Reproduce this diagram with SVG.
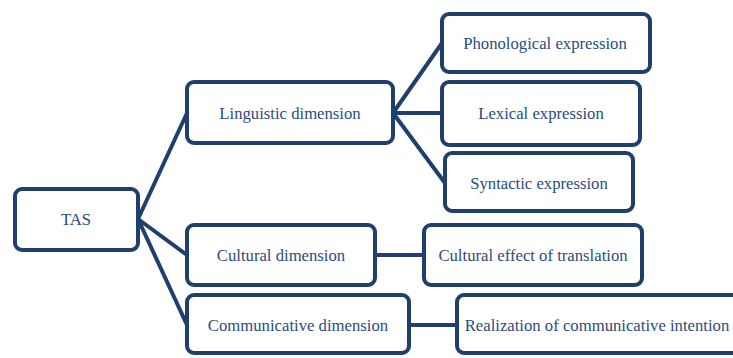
<svg xmlns="http://www.w3.org/2000/svg" width="733" height="358" viewBox="0 0 733 358">
<style>
.box{fill:#fff;stroke:#1F3F6E;stroke-width:4}
.lbl{font-family:"Liberation Serif","DejaVu Serif",serif;font-size:16.7px;fill:#2B4C7E;text-anchor:middle;dominant-baseline:central}
.con{stroke:#1F3F6E;stroke-width:4;fill:none}
</style>
<rect width="733" height="358" fill="#fff"/>
<g id="connectors">
<line class="con" x1="138" y1="219" x2="187" y2="113"/>
<line class="con" x1="138" y1="219" x2="187" y2="255"/>
<line class="con" x1="138" y1="219" x2="187" y2="325"/>
<line class="con" x1="393" y1="113" x2="442" y2="43"/>
<line class="con" x1="393" y1="113" x2="442" y2="113"/>
<line class="con" x1="393" y1="113" x2="445" y2="183"/>
<line class="con" x1="375" y1="255" x2="424" y2="255"/>
<line class="con" x1="409" y1="325" x2="457" y2="325"/>
</g>
<g id="tas"><rect class="box" x="15" y="189" width="123" height="61" rx="7"/><text class="lbl" x="76" y="219">TAS</text></g>
<g id="linguistic"><rect class="box" x="187" y="82" width="206" height="61" rx="7"/><text class="lbl" x="290" y="113">Linguistic dimension</text></g>
<g id="phonological"><rect class="box" x="442" y="14" width="208" height="58" rx="7"/><text class="lbl" x="545" y="43">Phonological expression</text></g>
<g id="lexical"><rect class="box" x="442" y="82" width="198" height="63" rx="7"/><text class="lbl" x="541" y="113">Lexical expression</text></g>
<g id="syntactic"><rect class="box" x="445" y="153" width="188" height="58" rx="7"/><text class="lbl" x="539" y="183">Syntactic expression</text></g>
<g id="cultural"><rect class="box" x="187" y="225" width="188" height="60" rx="7"/><text class="lbl" x="281" y="255">Cultural dimension</text></g>
<g id="culturaleffect"><rect class="box" x="424" y="225" width="218" height="60" rx="7"/><text class="lbl" x="533" y="255">Cultural effect of translation</text></g>
<g id="communicative"><rect class="box" x="187" y="295" width="222" height="58" rx="7"/><text class="lbl" x="298" y="325">Communicative dimension</text></g>
<g id="realization"><rect class="box" x="457" y="295" width="300" height="58" rx="7"/><text class="lbl" x="597" y="325">Realization of communicative intention</text></g>
</svg>
